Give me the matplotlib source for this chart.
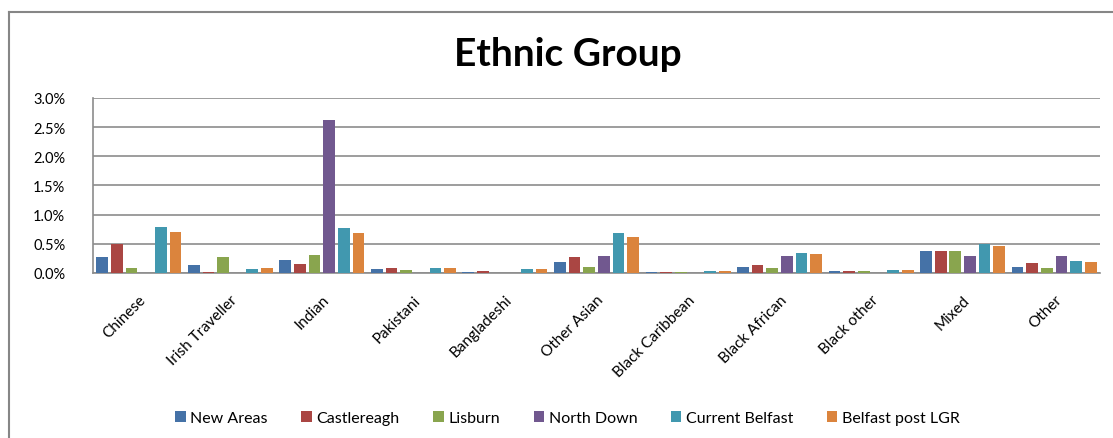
import numpy as np
import matplotlib
matplotlib.use("Agg")
import matplotlib.pyplot as plt
from matplotlib.ticker import FuncFormatter

plt.rcParams['font.family'] = ['Lato', 'DejaVu Sans']

# Data (percent of population)
categories = ["Chinese", "Irish Traveller", "Indian", "Pakistani", "Bangladeshi",
              "Other Asian", "Black Caribbean", "Black African", "Black other",
              "Mixed", "Other"]
new_areas       = [0.28, 0.13, 0.23, 0.06, 0.02, 0.18, 0.02, 0.10, 0.03, 0.37, 0.11]
castlereagh     = [0.50, 0.02, 0.15, 0.09, 0.03, 0.27, 0.02, 0.14, 0.03, 0.37, 0.17]
lisburn         = [0.08, 0.27, 0.30, 0.05, 0.00, 0.11, 0.02, 0.08, 0.03, 0.37, 0.08]
north_down      = [0.00, 0.00, 2.62, 0.00, 0.00, 0.29, 0.00, 0.29, 0.00, 0.29, 0.29]
current_belfast = [0.79, 0.06, 0.77, 0.09, 0.07, 0.69, 0.03, 0.35, 0.05, 0.50, 0.20]
belfast_post    = [0.70, 0.08, 0.69, 0.09, 0.06, 0.61, 0.03, 0.32, 0.05, 0.47, 0.18]

series_names = ["New Areas", "Castlereagh", "Lisburn", "North Down",
                "Current Belfast", "Belfast post LGR"]
series = [new_areas, castlereagh, lisburn, north_down, current_belfast, belfast_post]
colors = ["#4572A7", "#AA4643", "#89A54E", "#71588F", "#4198AF", "#DB843D"]

fig = plt.figure(figsize=(11.13, 4.39), dpi=100)
ax = fig.add_axes([0.0836, 0.3759, 0.9047, 0.3986])

x = np.arange(len(categories))
step = 0.16
for i, (name, vals) in enumerate(zip(series_names, series)):
    ax.bar(x + (i - 2.5) * step, vals, width=0.128, color=colors[i], label=name,
           linewidth=0, zorder=3)

ax.set_xlim(-0.5, len(categories) - 0.5)
ax.set_ylim(0, 3.0)
ax.set_yticks(np.arange(0, 3.01, 0.5))
ax.yaxis.set_major_formatter(FuncFormatter(lambda v, p: f"{v:.1f}%"))
ax.grid(axis="y", color="#8c8c8c", linewidth=1.2, zorder=0)
ax.set_axisbelow(True)

ax.set_xticks(x)
ax.set_xticklabels(categories, rotation=45, ha="right", rotation_mode="anchor",
                   fontsize=11)
ax.tick_params(axis="x", length=0, pad=14)
ax.tick_params(axis="y", length=0, pad=20, labelsize=10.5)

for s in ["top", "right"]:
    ax.spines[s].set_visible(False)
for s in ["left", "bottom"]:
    ax.spines[s].set_color("#8c8c8c")
    ax.spines[s].set_linewidth(1.2)

fig.text(0.51, 0.875, "Ethnic Group", ha="center", va="center",
         fontsize=28, fontweight="bold")

fig.legend(loc="center", bbox_to_anchor=(0.51, 0.045), ncol=6, frameon=False,
           fontsize=11.5, handlelength=0.65, handleheight=0.65, handletextpad=0.3,
           columnspacing=2.1)

# outer chart border (left and top visible)
fig.add_artist(plt.Line2D([0.0081, 0.0081], [0, 0.970], color="#868686", lw=1.5,
                          transform=fig.transFigure))
fig.add_artist(plt.Line2D([0.0081, 1.0], [0.970, 0.970], color="#868686", lw=1.5,
                          transform=fig.transFigure))

fig.savefig("out.png", dpi=100)
